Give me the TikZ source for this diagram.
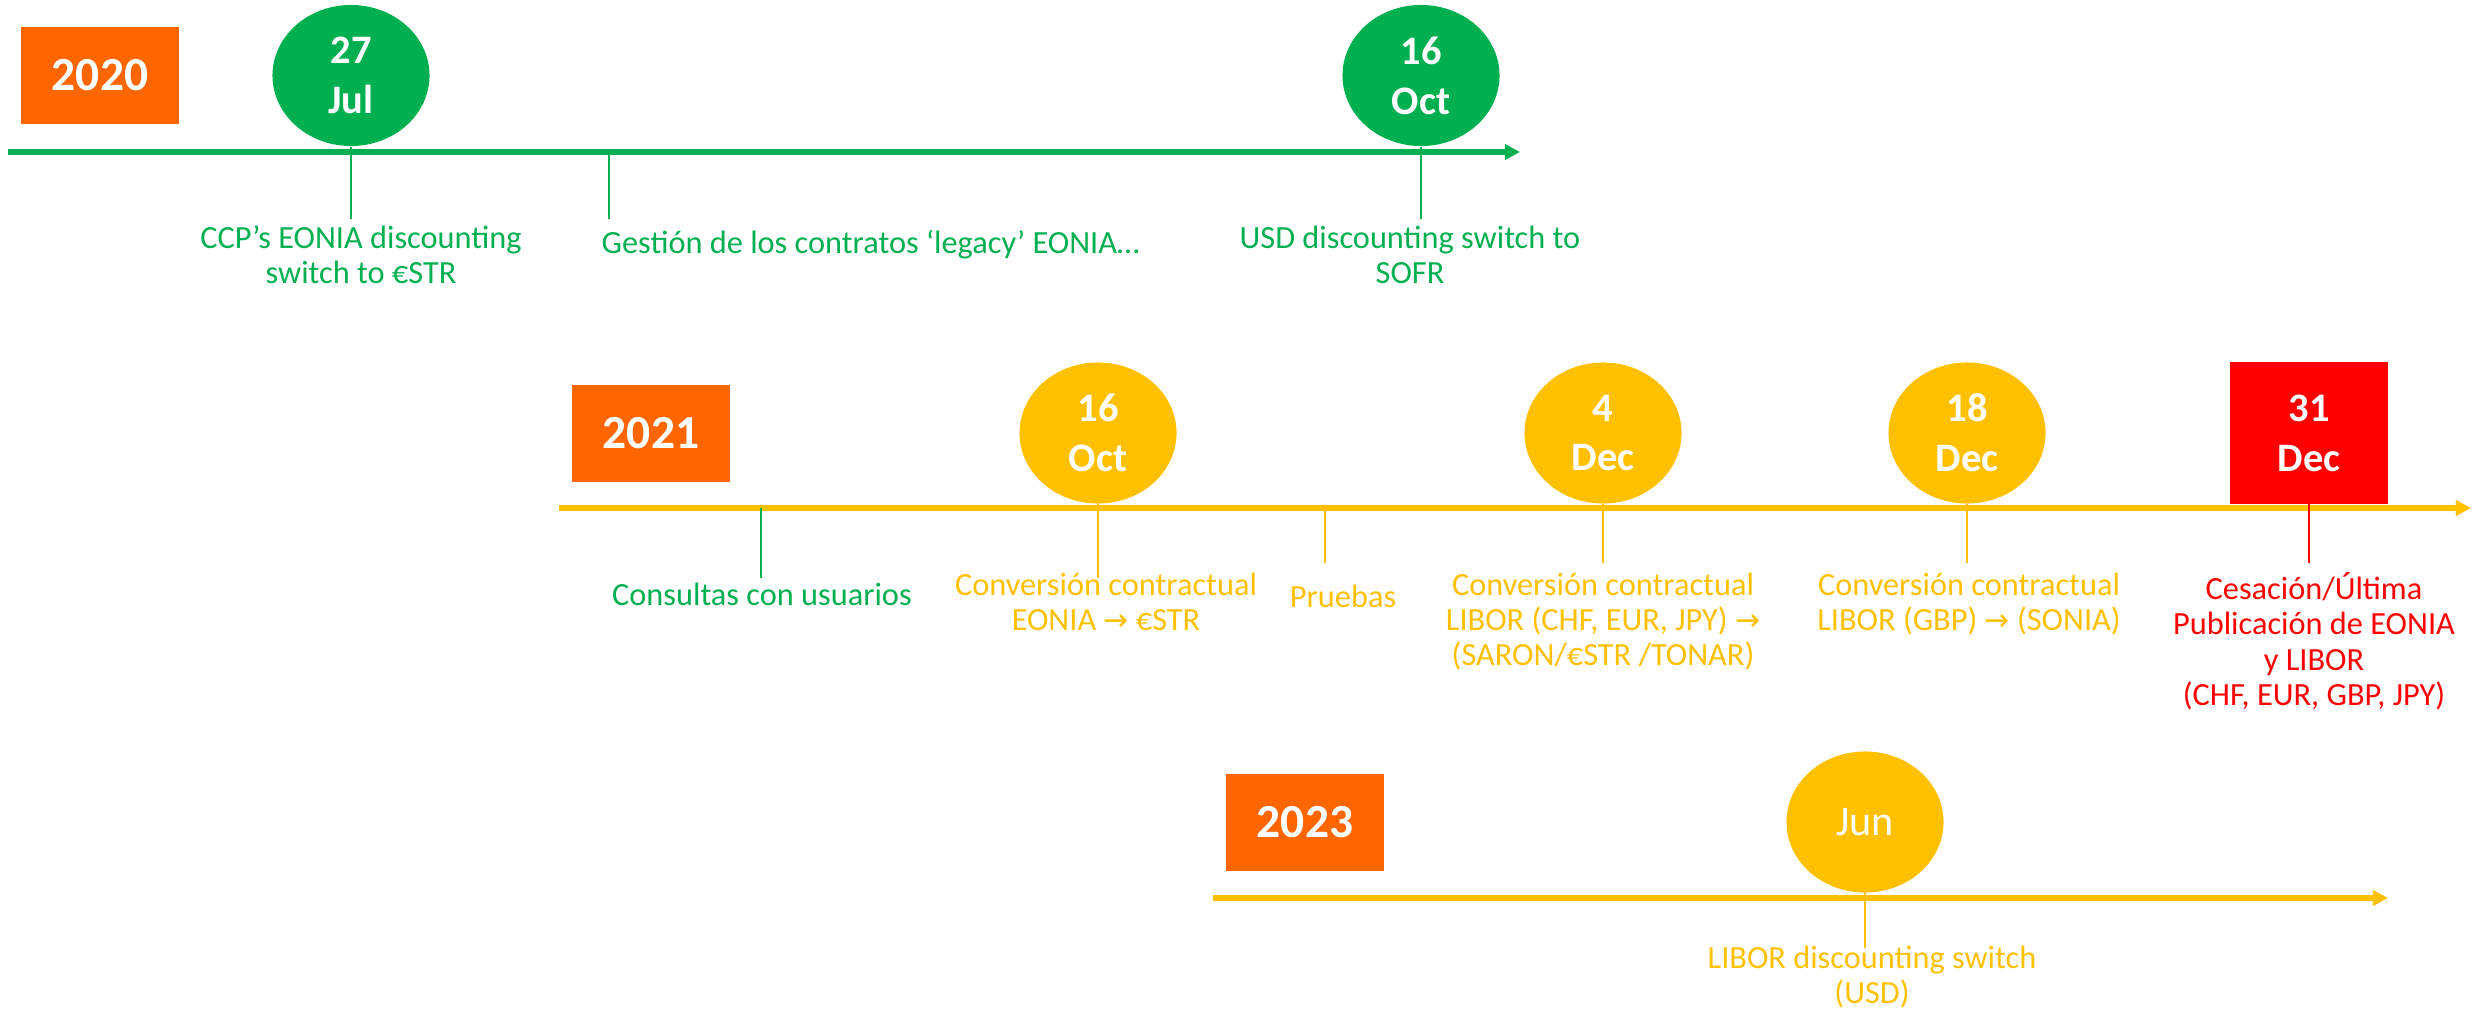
\documentclass[tikz,border=0pt]{standalone}
\usepackage{fontspec}
\setmainfont{Carlito}
\newfontfamily\arrowfont{DejaVu Sans}
\newcommand{\toarrow}{{\arrowfont\fontsize{8.5}{10}\selectfont →}}
\usetikzlibrary{arrows.meta,shapes.geometric}
\definecolor{yrorange}{HTML}{FF6600}
\definecolor{evgreen}{HTML}{00B050}
\definecolor{evyellow}{HTML}{FFC000}
\definecolor{evred}{HTML}{FF0000}
\tikzset{Y node/.style={fill=yrorange,minimum width=1.57cm,minimum height=0.97cm,inner sep=0pt,text=white,font=\fontsize{13.5}{16}\selectfont\bfseries},
	D node/.style={ellipse,minimum width=1.57cm,minimum height=1.41cm,inner sep=0pt,text=white,align=center,font=\fontsize{11.5}{14.2}\selectfont\bfseries},
	E text/.style={align=center,anchor=north,inner sep=0pt,font=\fontsize{9.2}{10}\selectfont,execute at begin node={\rule{0pt}{8pt}}},
	T line/.style={line width=1.5pt,-{Triangle[length=4.3pt,width=4.3pt]}},
	tick line/.style={line width=0.5pt},}

\begin{document}
\begin{tikzpicture}[x=0.01cm,y=-0.01cm]
			\useasboundingbox (0,0) rectangle (2473,1015);

			% 2020
			\coordinate (l1a) at (8,152);
			\coordinate (l1b) at (1520,152);
			\draw[T line, evgreen] (l1a) -- (l1b);
			\node[Y node] (y1) at (100,75.5) {2020};
			\node[D node, fill=evgreen] (d1) at (351,75.5) {27\\Jul};
			\node[D node, fill=evgreen] (d2) at (1421,75.5) {16\\Oct};
			\coordinate (g1) at (609,152);

			\node[E text, text=evgreen] (e1) at (361,225) {CCP’s EONIA discounting\\switch to €STR};
			\node[E text, text=evgreen, anchor=north west] (e2) at (601,225) {Gestión de los contratos ‘legacy’ EONIA…};
			\node[E text, text=evgreen] (e3) at (1410,225) {USD discounting switch to\\SOFR};

			\coordinate (k1) at (351,219);
			\coordinate (k2) at (609,219);
			\coordinate (k3) at (1421,219);
			\path[draw, tick line, evgreen]
				(d1.south) -- (k1)
				(g1) -- (k2)
				(d2.south) -- (k3);

			% 2021
			\coordinate (l2a) at (559,508);
			\coordinate (l2b) at (2471,508);
			\draw[T line, evyellow] (l2a) -- (l2b);
			\node[Y node] (y2) at (651,433.5) {2021};
			\node[D node, fill=evyellow] (d3) at (1098,433) {16\\Oct};
			\node[D node, fill=evyellow] (d4) at (1603,433) {4\\Dec};
			\node[D node, fill=evyellow] (d5) at (1967,433) {18\\Dec};
			\node[D node, rectangle, fill=evred] (d6) at (2309,433) {31\\Dec};
			\coordinate (g2) at (761,508);
			\coordinate (g3) at (1325,508);

			\node[E text, text=evgreen] (e4) at (762,577) {Consultas con usuarios};
			\node[E text, text=evyellow] (e5) at (1106,572) {Conversión contractual\\EONIA \toarrow{} €STR};
			\node[E text, text=evyellow] (e6) at (1343,579) {Pruebas};
			\node[E text, text=evyellow] (e7) at (1603,572) {Conversión contractual\\LIBOR (CHF, EUR, JPY) \toarrow\\(SARON/€STR /TONAR)};
			\node[E text, text=evyellow] (e8) at (1969,572) {Conversión contractual\\LIBOR (GBP) \toarrow{} (SONIA)};
			\node[E text, text=evred] (e9) at (2314,572) {Cesación/Última\\Publicación de EONIA\\y LIBOR\\(CHF, EUR, GBP, JPY)};

			\coordinate (k4) at (761,578);
			\coordinate (k5) at (1098,578);
			\coordinate (k6) at (1325,563);
			\coordinate (k7) at (1603,563);
			\coordinate (k8) at (1967,563);
			\coordinate (k9) at (2309,563);
			\draw[tick line, evgreen] (g2) -- (k4);
			\path[draw, tick line, evyellow]
				(d3.south) -- (k5)
				(g3) -- (k6)
				(d4.south) -- (k7)
				(d5.south) -- (k8);
			\draw[tick line, evred] (d6.south) -- (k9);

			% 2023
			\coordinate (l3a) at (1213,898);
			\coordinate (l3b) at (2388,898);
			\draw[T line, evyellow] (l3a) -- (l3b);
			\node[Y node] (y3) at (1305,822.5) {2023};
			\node[D node, fill=evyellow, font=\fontsize{12}{14}\selectfont] (d7) at (1865,822) {Jun};

			\node[E text, text=evyellow] (e10) at (1872,945) {LIBOR discounting switch\\(USD)};
			\coordinate (k10) at (1865,948);
			\draw[tick line, evyellow] (d7.south) -- (k10);
		\end{tikzpicture}
\end{document}
